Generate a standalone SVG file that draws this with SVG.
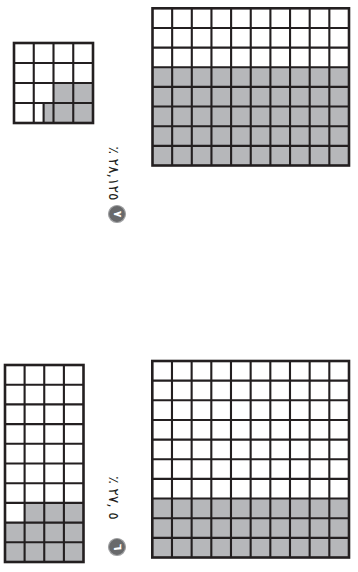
<svg xmlns="http://www.w3.org/2000/svg" width="358" height="572" viewBox="0 0 358 572">
<style>
.bg{fill:#ffffff}
.sh{fill:#b6b7ba}
.gl{fill:none;stroke:#231f20;stroke-width:2.1}
.ob{fill:none;stroke:#231f20;stroke-width:2.6}
.lbl{font-family:"DejaVu Sans",sans-serif;font-size:14px;fill:#231f20;unicode-bidi:bidi-override;direction:ltr}
.num{font-family:"DejaVu Sans",sans-serif;font-size:11px;font-weight:bold;fill:#ffffff}
.cir{fill:#68696b;stroke:#a0a1a3;stroke-width:1.2}
</style>
<rect class="bg" x="0" y="0" width="358" height="572"/>

<g id="gridSmallTop">
<rect class="sh" x="53.5" y="83" width="39.5" height="20"/>
<rect class="sh" x="43.6" y="103" width="49.4" height="20"/>
<path class="gl" d="M14 63H93M14 83H93M14 103H93M33.75 43V123M53.5 43V123M73.25 43V123M43.6 103V123"/>
<rect class="ob" x="14" y="43" width="79" height="80"/>
</g>

<g id="gridBigTop">
<rect class="sh" x="152.5" y="67.25" width="196.5" height="98.25"/>
<path class="gl" d="M152.5 27.95H349M152.5 47.6H349M152.5 67.25H349M152.5 86.9H349M152.5 106.55H349M152.5 126.2H349M152.5 145.85H349M172.15 8.3V165.5M191.8 8.3V165.5M211.45 8.3V165.5M231.1 8.3V165.5M250.75 8.3V165.5M270.4 8.3V165.5M290.05 8.3V165.5M309.7 8.3V165.5M329.35 8.3V165.5"/>
<rect class="ob" x="152.5" y="8.3" width="196.5" height="157.2"/>
</g>

<g id="labelTop">
<text class="lbl" transform="translate(108.5,173.5) rotate(90)" text-anchor="middle" letter-spacing="-0.6">٪ ٢٨,١٢٥</text>
</g>
<g id="badgeTop">
<circle class="cir" cx="117" cy="214" r="8.5"/>
<text class="num" transform="translate(117,214) rotate(90)" text-anchor="middle" dominant-baseline="central">٧</text>
</g>

<g id="gridSmallBottom">
<rect class="sh" x="24.6" y="502.9" width="58.9" height="19.7"/>
<rect class="sh" x="5" y="522.6" width="78.5" height="39.4"/>
<path class="gl" d="M5 384.7H83.5M5 404.4H83.5M5 424.1H83.5M5 443.8H83.5M5 463.5H83.5M5 483.2H83.5M5 502.9H83.5M5 522.6H83.5M5 542.3H83.5M24.6 365V562M44.25 365V562M63.9 365V562"/>
<rect class="ob" x="5" y="365" width="78.5" height="197"/>
</g>

<g id="gridBigBottom">
<rect class="sh" x="152.3" y="498.55" width="196.7" height="58.95"/>
<path class="gl" d="M152.3 380.65H349M152.3 400.3H349M152.3 419.95H349M152.3 439.6H349M152.3 459.25H349M152.3 478.9H349M152.3 498.55H349M152.3 518.2H349M152.3 537.85H349M171.97 361V557.5M191.64 361V557.5M211.31 361V557.5M230.98 361V557.5M250.65 361V557.5M270.32 361V557.5M289.99 361V557.5M309.66 361V557.5M329.33 361V557.5"/>
<rect class="ob" x="152.3" y="361" width="196.7" height="196.5"/>
</g>

<g id="labelBottom">
<text class="lbl" transform="translate(108.5,498) rotate(90)" text-anchor="middle" letter-spacing="4.5">٪ ٢٧, ٥</text>
</g>
<g id="badgeBottom">
<circle class="cir" cx="117" cy="547" r="8.5"/>
<text class="num" transform="translate(117,547) rotate(90)" text-anchor="middle" dominant-baseline="central">٦</text>
</g>
</svg>
